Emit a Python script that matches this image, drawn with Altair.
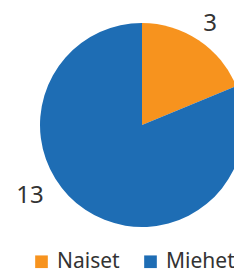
import altair as alt
import pandas as pd

categories = ["Naiset", "Miehet"]
values = [3, 13]
colors = ["#F7931E", "#1E6DB4"]

df = pd.DataFrame({"cat": categories, "val": values, "ord": list(range(len(categories)))})

cx, cy, r = 134, 117, 102

arcs = alt.Chart(df).mark_arc(outerRadius=r, stroke=None).encode(
    theta=alt.Theta("val:Q", stack=True),
    order=alt.Order("ord:Q"),
    x=alt.value(cx),
    y=alt.value(cy),
    color=alt.Color(
        "cat:N",
        scale=alt.Scale(domain=categories, range=colors),
        sort=categories,
        legend=alt.Legend(
            title=None,
            orient="none",
            direction="horizontal",
            legendX=23,
            legendY=243,
            symbolType="square",
            symbolSize=160,
            symbolStrokeWidth=0,
            labelFontSize=21,
            labelFont="Noto Sans",
            labelColor="#333333",
            columnPadding=20,
            symbolOffset=0,
            labelOffset=5,
        ),
    ),
)

lab_base = (
    alt.Chart(df)
    .transform_window(cum="sum(val)", sort=[alt.SortField("ord")], frame=[None, 0])
    .transform_calculate(mid="datum.cum - datum.val / 2")
    .encode(
        theta=alt.Theta("mid:Q", stack=None),
        x=alt.value(cx),
        y=alt.value(cy),
        text="val:Q",
    )
)

lab_style = dict(radius=128, fontSize=24, font="Noto Sans", color="#333333", align="center", baseline="middle")

lab1 = lab_base.transform_filter(alt.datum.cat == "Naiset").mark_text(**lab_style, dx=-3, dy=5)
lab2 = lab_base.transform_filter(alt.datum.cat == "Miehet").mark_text(**lab_style, dx=-41, dy=-35)

chart = (
    alt.layer(arcs, lab1, lab2)
    .resolve_scale(theta="shared")
    .properties(width=226, height=265, autosize=alt.AutoSizeParams(type="none"), padding=0)
    .configure_view(stroke=None)
)

chart.save("out.html", embed_options={"renderer": "svg", "actions": False})
